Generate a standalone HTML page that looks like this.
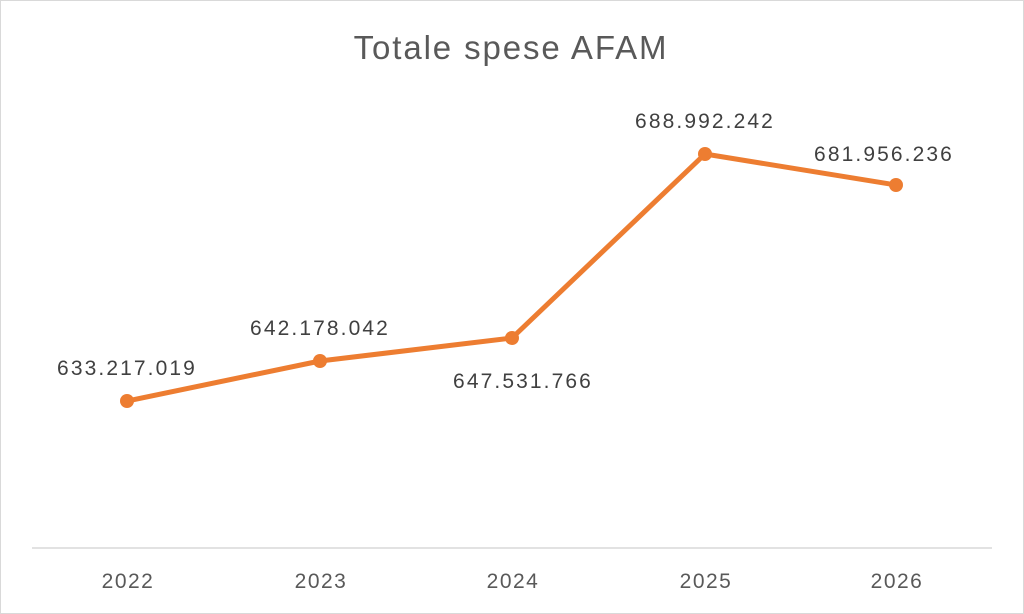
<!DOCTYPE html>
<html><head><meta charset="utf-8"><style>
html,body{margin:0;padding:0;background:#fff;}
svg{display:block;}
</style></head><body>
<svg width="1024" height="614" viewBox="0 0 1024 614" xmlns="http://www.w3.org/2000/svg" font-family="Liberation Sans, sans-serif">
<rect x="0.5" y="0.5" width="1023" height="613" fill="#fff" stroke="#d9d9d9"/>
<text x="511" y="59" text-anchor="middle" font-size="33" letter-spacing="1.9" fill="#595959">Totale spese AFAM</text>
<line x1="32" y1="548" x2="992" y2="548" stroke="#d9d9d9" stroke-width="1.5"/>
<g font-size="21" letter-spacing="1.5" fill="#595959" text-anchor="middle">
<text x="128" y="588">2022</text><text x="321" y="588">2023</text><text x="513" y="588">2024</text><text x="706" y="588">2025</text><text x="897" y="588">2026</text>
</g>
<polyline points="127,401 320,361 512,338 705,154 896,185" fill="none" stroke="#ed7d31" stroke-width="5" stroke-linejoin="round" stroke-linecap="round"/>
<g fill="#ed7d31">
<circle cx="127" cy="401" r="7"/><circle cx="320" cy="361" r="7"/><circle cx="512" cy="338" r="7"/><circle cx="705" cy="154" r="7"/><circle cx="896" cy="185" r="7"/>
</g>
<g font-size="21" letter-spacing="2.1" fill="#404040" text-anchor="middle">
<text x="127" y="375">633.217.019</text>
<text x="320" y="335">642.178.042</text>
<text x="523" y="388">647.531.766</text>
<text x="705" y="128">688.992.242</text>
<text x="884" y="161">681.956.236</text>
</g>
</svg>
</body></html>
